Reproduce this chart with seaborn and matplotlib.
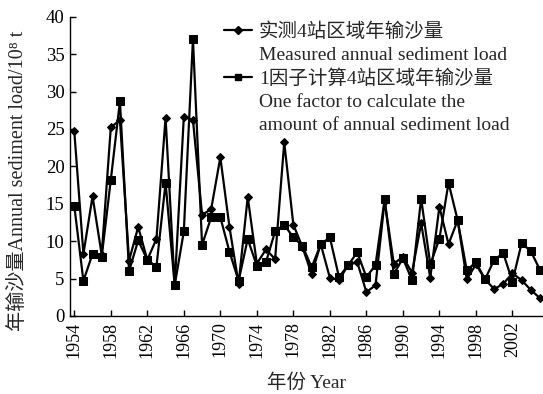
import matplotlib
matplotlib.use("Agg")
import matplotlib.pyplot as plt
from matplotlib.lines import Line2D
import seaborn as sns
import pandas as pd

years = list(range(1954, 2006))
measured = [24.7, 8.3, 16.0, 8.2, 25.2, 26.2, 7.4, 11.9, 7.5, 10.3,
            26.5, 4.1, 26.6, 26.2, 13.5, 14.3, 21.2, 11.9, 4.3, 15.9,
            7.0, 8.9, 7.6, 23.2, 12.2, 9.2, 5.6, 9.6, 5.1, 4.8,
            6.8, 7.2, 3.2, 4.1, 15.4, 7.0, 7.9, 5.8, 12.4, 5.1,
            14.6, 9.6, 12.8, 4.9, 6.9, 4.9, 3.6, 4.3, 5.7, 4.8,
            3.5, 2.4]
calculated = [14.7, 4.7, 8.3, 7.9, 18.2, 28.7, 6.0, 10.1, 7.5, 6.6,
              17.8, 4.1, 11.3, 37.0, 9.5, 13.2, 13.2, 8.6, 4.7, 10.3,
              6.7, 7.2, 11.3, 12.2, 10.5, 9.4, 6.5, 9.6, 10.5, 5.2,
              6.8, 8.5, 5.2, 6.8, 15.6, 5.6, 7.7, 4.8, 15.7, 6.9,
              10.3, 17.8, 12.8, 6.1, 7.2, 4.9, 7.5, 8.4, 4.6, 9.7,
              8.7, 6.2]
xticks = list(range(1954, 2003, 4))
yticks = list(range(0, 41, 5))
legend_lines = ["实测4站区域年输沙量",
                "Measured annual sediment load",
                "1因子计算4站区域年输沙量",
                "One factor to calculate the",
                "amount of annual sediment load"]

sns.set_theme(style="white")
plt.rcParams["font.family"] = ["Liberation Serif", "Noto Sans CJK SC", "DejaVu Sans"]

df = pd.DataFrame({"year": years, "measured": measured, "calculated": calculated})

fig = plt.figure(figsize=(5.43, 3.94), dpi=100)
ax = fig.add_axes([70 / 543, 78 / 394, 473 / 543, 299.3 / 394])

sns.lineplot(data=df, x="year", y="measured", ax=ax, color="black",
             marker="D", markersize=4.5, linewidth=1.6, markeredgecolor="black")
sns.lineplot(data=df, x="year", y="calculated", ax=ax, color="black",
             marker="s", markersize=5.5, linewidth=1.6, markeredgecolor="black")

ax.set_xlim(1953.53, 2005.35)
ax.set_ylim(0, 40)
ax.set_xticks(xticks)
ax.set_yticks(yticks)
ax.set_xticklabels([str(t) for t in xticks], rotation=90, fontsize=13)
ax.set_yticklabels([str(t) for t in yticks], fontsize=13.5)
ax.tick_params(direction="in", length=4, width=1, colors="black", pad=4,
               bottom=True, left=True)
for side in ("top", "right"):
    ax.spines[side].set_visible(False)
for side in ("left", "bottom"):
    ax.spines[side].set_color("black")
    ax.spines[side].set_linewidth(1.0)

ax.set_xlabel("年份 Year", fontsize=14, labelpad=11)
ax.set_ylabel("年输沙量Annual sediment load/10\u2078 t", fontsize=14.5, labelpad=0)
ax.yaxis.set_label_coords(-0.088, 0.45)

blank = Line2D([], [], linestyle="none")
handles = [
    Line2D([], [], color="black", marker="D", markersize=4, linewidth=1.6),
    blank,
    Line2D([], [], color="black", marker="s", markersize=5, linewidth=1.6),
    blank, blank,
]
ax.legend(handles, legend_lines, loc="upper left",
          bbox_to_anchor=(150 / 473, 0.993), frameon=False, fontsize=14,
          handlelength=1.45, handletextpad=0.35, labelspacing=0.28,
          borderaxespad=0.0, borderpad=0.2)

fig.savefig("out.png", dpi=100)
